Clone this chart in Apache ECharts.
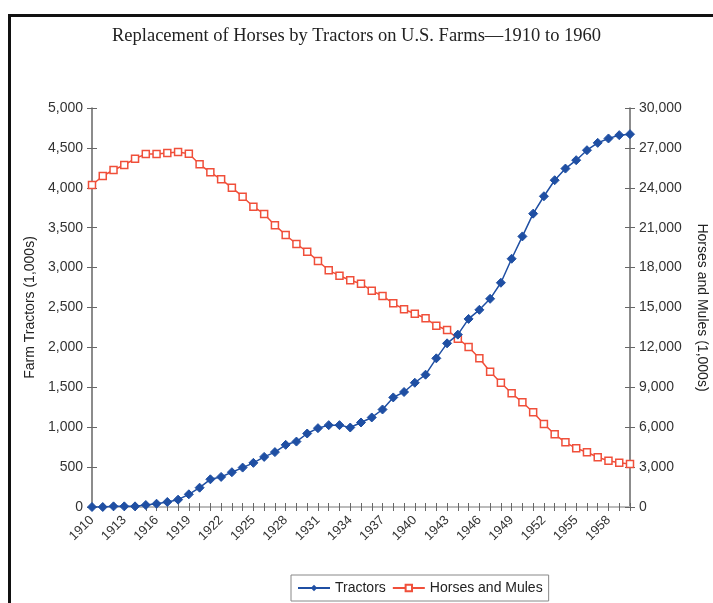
<!DOCTYPE html>
<html>
<head>
<meta charset="utf-8">
<script src="https://cdn.jsdelivr.net/npm/echarts@6/dist/echarts.min.js"></script>
<style>
html,body{margin:0;padding:0;background:#fff;}
#chart{width:713px;height:603px;}
</style>
</head>
<body>
<div id="chart"></div>
<script>
var years = [];
for (var y = 1910; y <= 1960; y++) years.push(String(y));

var tractors = [0, 0, 8, 8, 8, 25, 41, 63, 92, 159,
  242, 347, 377, 436, 494, 553, 628, 688, 779, 820,
  921, 988, 1026, 1026, 996, 1059, 1122, 1222, 1373, 1441,
  1557, 1658, 1863, 2051, 2160, 2357, 2471, 2609, 2810, 3111,
  3391, 3676, 3894, 4095, 4241, 4346, 4471, 4563, 4618, 4660, 4672];

var horsesMules = [24211, 24888, 25339, 25715, 26189, 26542, 26542, 26617, 26692, 26565,
  25768, 25166, 24640, 24009, 23332, 22580, 22031, 21190, 20452, 19775,
  19197, 18497, 17797, 17392, 17046, 16790, 16264, 15865, 15316, 14865,
  14534, 14188, 13632, 13309, 12655, 12030, 11181, 10173, 9346, 8549,
  7872, 7120, 6241, 5466, 4865, 4414, 4113, 3737, 3481, 3331, 3233];

var titleText = 'Replacement of Horses by Tractors on U.S. Farms\u20141910 to 1960';
var leftName = 'Farm Tractors (1,000s)';
var rightName = 'Horses and Mules (1,000s)';

var BLUE = '#1f4fa3';
var RED = '#f04f3a';
var AX = '#666';
var sans = '"Liberation Sans", Arial, sans-serif';

function fmt(v) { return Number(v).toLocaleString('en-US'); }

var chart = echarts.init(document.getElementById('chart'));
chart.setOption({
  animation: false,
  backgroundColor: '#fff',
  title: {
    text: titleText,
    left: 'center',
    top: 22,
    textStyle: { fontFamily: '"Liberation Serif", "Times New Roman", serif', fontSize: 18.5, fontWeight: 'normal', color: '#222' }
  },
  graphic: [{
    type: 'rect', left: 7, top: 13, shape: { width: 760, height: 660 },
    style: { fill: 'none', stroke: '#111', lineWidth: 3 }, silent: true
  }],
  legend: {
    top: 575,
    left: 291,
    itemWidth: 32,
    itemHeight: 8,
    itemGap: 6,
    padding: [6, 6, 6, 6],
    borderColor: '#888',
    borderWidth: 1,
    textStyle: { fontFamily: sans, fontSize: 14, color: '#222' },
    data: ['Tractors', 'Horses and Mules']
  },
  grid: { left: 92, right: 83, top: 108, bottom: 96, containLabel: false, outerBoundsMode: 'none' },
  xAxis: [{
    type: 'category', data: years, boundaryGap: false, position: 'bottom',
    axisLine: { lineStyle: { color: AX, width: 1.5 } },
    axisTick: { show: true, interval: 0, length: 4, lineStyle: { color: AX } },
    axisLabel: { interval: 2, rotate: 45, margin: 11, fontFamily: sans, fontSize: 13, color: '#333' },
    splitLine: { show: false }
  }, {
    type: 'category', data: years, boundaryGap: false, position: 'bottom',
    axisLine: { show: false },
    axisTick: { show: true, inside: true, interval: 0, length: 4, lineStyle: { color: AX } },
    axisLabel: { show: false }, splitLine: { show: false }
  }, {
    type: 'category', data: years, boundaryGap: false, position: 'top',
    axisLine: { show: true, lineStyle: { color: '#ccc', width: 1.5 } },
    axisTick: { show: false }, axisLabel: { show: false }, splitLine: { show: false }
  }],
  yAxis: [{
    type: 'value', min: 0, max: 5000, interval: 500, position: 'left',
    name: leftName, nameLocation: 'middle', nameRotate: 90, nameGap: 53,
    nameTextStyle: { fontFamily: sans, fontSize: 14, color: '#222' },
    axisLine: { show: true, lineStyle: { color: AX, width: 1.5 } },
    axisTick: { show: true, length: 5, lineStyle: { color: AX } },
    axisLabel: { fontFamily: sans, fontSize: 14, color: '#333', margin: 9, formatter: fmt },
    splitLine: { show: false }
  }, {
    type: 'value', min: 0, max: 30000, interval: 3000, position: 'right',
    name: rightName, nameLocation: 'middle', nameRotate: -90, nameGap: 65,
    nameTextStyle: { fontFamily: sans, fontSize: 14, color: '#222' },
    axisLine: { show: true, lineStyle: { color: AX, width: 1.5 } },
    axisTick: { show: true, length: 5, lineStyle: { color: AX } },
    axisLabel: { fontFamily: sans, fontSize: 14, color: '#333', margin: 9, formatter: fmt },
    splitLine: { show: false }
  }, {
    type: 'value', min: 0, max: 5000, interval: 500, position: 'left',
    axisLine: { show: false },
    axisTick: { show: true, inside: true, length: 5, lineStyle: { color: AX } },
    axisLabel: { show: false }, splitLine: { show: false }
  }, {
    type: 'value', min: 0, max: 30000, interval: 3000, position: 'right',
    axisLine: { show: false },
    axisTick: { show: true, inside: true, length: 5, lineStyle: { color: AX } },
    axisLabel: { show: false }, splitLine: { show: false }
  }],
  series: [{
    name: 'Tractors', type: 'line', data: tractors, xAxisIndex: 0, yAxisIndex: 0,
    symbol: 'diamond', symbolSize: 9, showAllSymbol: true,
    lineStyle: { color: BLUE, width: 1.5 },
    itemStyle: { color: BLUE, borderColor: BLUE },
    z: 3
  }, {
    name: 'Horses and Mules', type: 'line', data: horsesMules, xAxisIndex: 0, yAxisIndex: 1,
    symbol: 'rect', symbolSize: 7, showAllSymbol: true,
    lineStyle: { color: RED, width: 1.5 },
    itemStyle: { color: '#fff', borderColor: RED, borderWidth: 1.5 },
    z: 2
  }]
});
</script>
</body>
</html>
